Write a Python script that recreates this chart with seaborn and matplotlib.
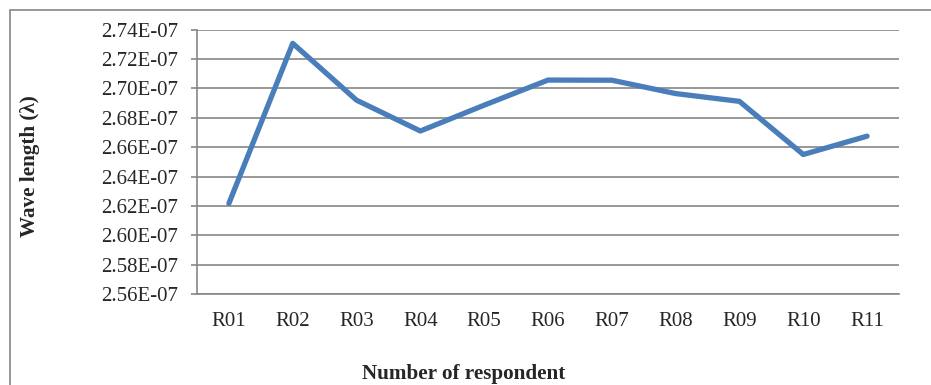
import pandas as pd
import matplotlib
matplotlib.use("Agg")
import matplotlib.pyplot as plt
import seaborn as sns
from matplotlib.patches import Rectangle
from matplotlib.ticker import FuncFormatter, FixedLocator

respondents = ["R01", "R02", "R03", "R04", "R05", "R06", "R07", "R08", "R09", "R10", "R11"]
wavelength = [2.6217e-07, 2.7307e-07, 2.6920e-07, 2.6710e-07, 2.6886e-07, 2.7057e-07,
              2.7056e-07, 2.6965e-07, 2.6912e-07, 2.6550e-07, 2.6675e-07]
y_ticks = [2.56e-07, 2.58e-07, 2.60e-07, 2.62e-07, 2.64e-07, 2.66e-07,
           2.68e-07, 2.70e-07, 2.72e-07, 2.74e-07]

df = pd.DataFrame({"respondent": respondents, "wavelength": wavelength})

sns.set_style("white")
plt.rcParams["font.family"] = ["Liberation Serif", "DejaVu Serif"]

grey = "#868686"
fig = plt.figure(figsize=(9.31, 3.85), dpi=100)
ax = fig.add_axes([197 / 931, 1 - 294 / 385, 702 / 931, 264.3 / 385])

# outer chart border (cropped on right/bottom)
fig.patches.append(Rectangle((9.5 / 931, -0.2), 2, 1 - 10 / 385 + 0.2,
                             transform=fig.transFigure, fill=False,
                             edgecolor=grey, lw=1.2))

sns.lineplot(data=df, x="respondent", y="wavelength", sort=False,
             color="#4A7EBB", lw=3.8, ax=ax)

ax.set_xlim(-0.5, len(respondents) - 0.5)
ax.set_ylim(y_ticks[0], y_ticks[-1])
ax.set_yticks(y_ticks)
ax.yaxis.set_major_formatter(FuncFormatter(lambda v, p: f"{v:.2E}"))
ax.yaxis.grid(True, color=grey, lw=1.2)
ax.set_axisbelow(True)

ax.set_xticks(range(len(respondents)))
ax.set_xticklabels(respondents)
ax.xaxis.set_minor_locator(FixedLocator([i - 0.5 for i in range(len(respondents) + 1)]))
ax.tick_params(axis="x", which="major", length=0, pad=13, labelsize=15)
ax.tick_params(axis="x", which="minor", length=4, color=grey, width=1.2, direction="out")
ax.tick_params(axis="y", length=4.5, color=grey, width=1.2, pad=9, labelsize=15,
               direction="out", left=True)

for s in ["top", "right"]:
    ax.spines[s].set_visible(False)
for s in ["left", "bottom"]:
    ax.spines[s].set_color(grey)
    ax.spines[s].set_linewidth(1.2)

ax.set_xlabel("Number of respondent", fontsize=15.2, fontweight="bold")
ax.xaxis.set_label_coords(0.380, -0.302)
ax.xaxis.label.set_va("center")
ax.set_ylabel("Wave length (\u03bb)", fontsize=15.2, fontweight="bold")
ax.yaxis.set_label_coords(-0.238, 0.484)
ax.yaxis.label.set_va("center")

fig.savefig("out.png", dpi=100)
